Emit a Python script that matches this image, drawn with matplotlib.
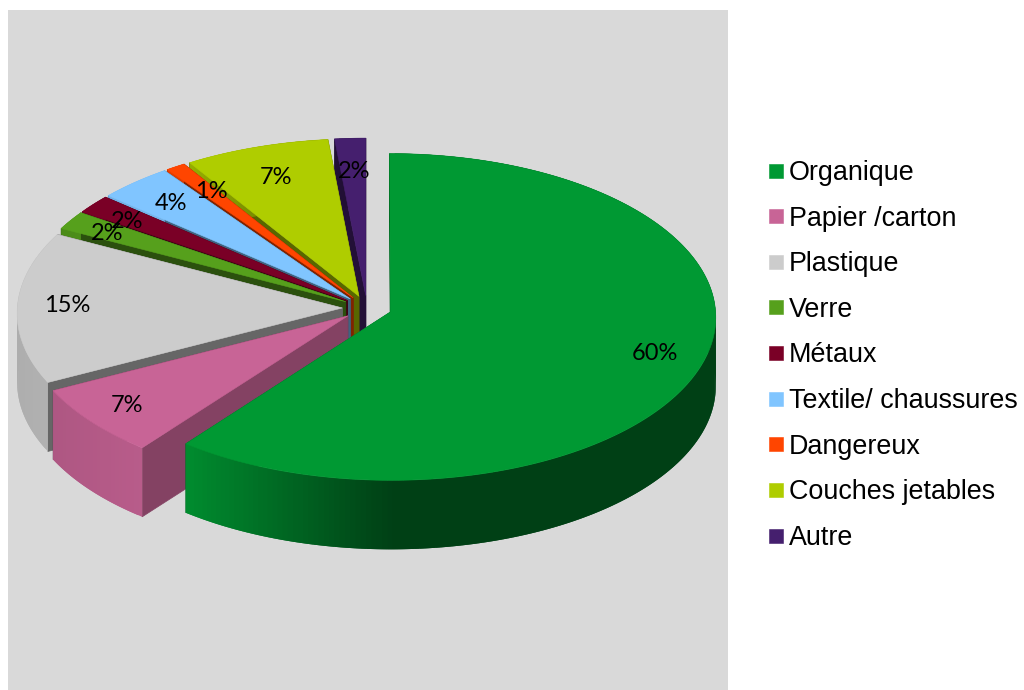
import numpy as np
import matplotlib
matplotlib.use("Agg")
import matplotlib.pyplot as plt
from matplotlib.collections import PolyCollection
from matplotlib.lines import Line2D
from matplotlib.patches import Polygon, Rectangle

# data
categories = ["Organique", "Papier /carton", "Plastique", "Verre", "Métaux",
              "Textile/ chaussures", "Dangereux", "Couches jetables", "Autre"]
values = [60, 7, 15, 2, 2, 4, 1, 7, 2]
colors = ["#009933", "#C86496", "#CCCCCC", "#56A01C", "#7A0026",
          "#80C5FF", "#FF4500", "#AFCD00", "#451F6E"]
label_xy = [(655, 354), (127, 405), (67, 306), (107, 233), (127, 221),
            (171, 203), (211, 192), (276, 177), (354, 171)]

# geometry of the pie, in image pixels
CX, CY = 367, 308
RX, RY = 325, 163
DEPTH = 69
PERSP = 0.03
EXPLODE = 0.076


def project(u, v):
    p = 1 / (1 - PERSP * v)
    return CX + RX * u * p, CY + RY * v * p


def skew(angle):
    # the 3d view pushes the inner slice edges a bit clockwise
    return np.radians(np.interp(np.degrees(angle), [0, 295, 320, 330, 352.8], [2, 2, 0, 0, 1.5]))


def shade(color, f):
    return tuple(c * f for c in matplotlib.colors.to_rgb(color))


def wall_factor(u):
    return np.interp(u, [-1, -0.62, 0, 1], [0.85, 0.92, 0.42, 0.42])


def face_factor(angle):
    return np.interp(np.degrees(angle), [218, 243], [0.66, 0.5])


fig = plt.figure(figsize=(10.24, 6.9), dpi=100)
ax = fig.add_axes([0, 0, 1, 1])
ax.set_xlim(0, 1024)
ax.set_ylim(690, 0)
ax.axis("off")
ax.add_patch(Rectangle((8, 10), 720, 680, color="#D9D9D9", lw=0, zorder=0))

edges = np.r_[0, np.cumsum(values)] / sum(values) * 2 * np.pi
edges[1:-1] += skew(edges[1:-1])
starts, ends = edges[:-1], edges[1:]
mids = (starts + ends) / 2

# small back slices first, the big green one last
z = 1
for i in range(len(values) - 1, -1, -1):
    off_u = EXPLODE * np.sin(mids[i])
    off_v = -EXPLODE * np.cos(mids[i])
    th = np.linspace(starts[i], ends[i], max(values[i] * 4, 8))
    x, y = project(off_u + np.sin(th), off_v - np.cos(th))
    px, py = project(off_u, off_v)

    # radial cut faces, the one that looks away from us goes first
    for ex, ey, ang in [(x[-1], y[-1], ends[i]), (x[0], y[0], starts[i])]:
        tone = shade(colors[i], face_factor(ang))
        ax.add_patch(Polygon([(px, py), (ex, ey), (ex, ey + DEPTH), (px, py + DEPTH)],
                             closed=True, fc=tone, ec=tone, lw=0.5, zorder=z))
        z += 1

    # outer wall, strips overlap the next step so no seams show
    n = len(x)
    quads = [[(x[k], y[k]), (x[min(k + 2, n - 1)], y[min(k + 2, n - 1)]),
              (x[min(k + 2, n - 1)], y[min(k + 2, n - 1)] + DEPTH), (x[k], y[k] + DEPTH)]
             for k in range(n - 1)]
    tones = [shade(colors[i], wall_factor(np.sin((th[k] + th[k + 1]) / 2))) for k in range(n - 1)]
    ax.add_collection(PolyCollection(quads, facecolors=tones, edgecolors="none", zorder=z))
    z += 1

    # top face
    ax.add_patch(Polygon(np.column_stack([np.r_[px, x], np.r_[py, y]]), closed=True,
                         fc=colors[i], ec=colors[i], lw=0.4, zorder=z))
    z += 1

for v, (lx, ly) in zip(values, label_xy):
    ax.text(lx, ly, f"{v}%", ha="center", va="center", fontsize=17, family="Lato",
            color="black", zorder=z)

handles = [Line2D([], [], ls="", marker="s", ms=9.5, mew=0.4, mfc=c, mec=c) for c in colors]
ax.legend(handles, categories, loc="upper left", bbox_to_anchor=(768, 160),
          bbox_transform=ax.transData, frameon=False, borderpad=0, borderaxespad=0,
          handlelength=0.6, handletextpad=0.19, labelspacing=0.73,
          prop={"family": "Liberation Sans", "size": 19.35})

fig.savefig("out.png", dpi=100)
